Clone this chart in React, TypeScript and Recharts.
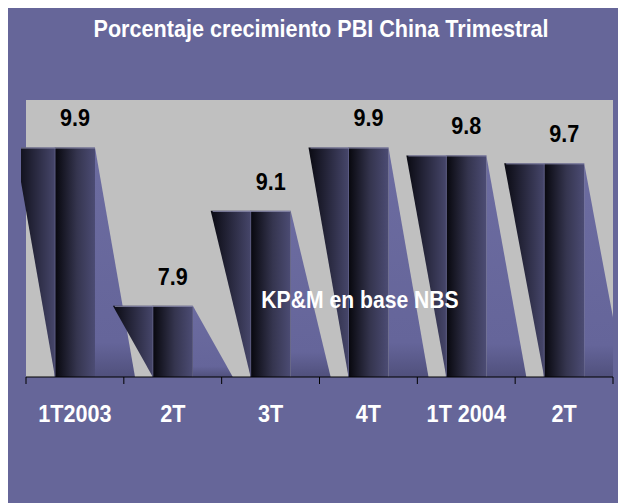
import { Bar, BarChart, CartesianGrid, LabelList, XAxis, YAxis } from 'recharts';

const quarters = ['1T2003', '2T', '3T', '4T', '1T 2004', '2T'];
const growth = [9.9, 7.9, 9.1, 9.9, 9.8, 9.7];
const yDomain: [number, number] = [7, 10.5];

const chartData = quarters.map((quarter, i) => ({ quarter, growth: growth[i] }));

const FONT = '"Liberation Sans", Arial, sans-serif';
const PURPLE = '#666699';
const SQUEEZE = 0.92; // the source font is a bit condensed

function NarrowText({ x, y, fill, size, children }: {
  x: number;
  y: number;
  fill: string;
  size: number;
  children: React.ReactNode;
}) {
  return (
    <text
      transform={`translate(${x},${y}) scale(${SQUEEZE},1)`}
      textAnchor="middle"
      fill={fill}
      fontFamily={FONT}
      fontWeight="bold"
      fontSize={size}
    >
      {children}
    </text>
  );
}

function WedgeBar(props: Record<string, unknown>) {
  const { x, y, width, height } = props as { x: number; y: number; width: number; height: number };
  if (x == null || y == null || !height) return null;
  const b = y + height;
  return (
    <g clipPath="url(#plot-clip)">
      <polygon points={`${x - width},${y} ${x},${y} ${x},${b}`} fill="url(#wedge-left)" />
      <polygon points={`${x + width},${y} ${x + 2 * width},${b} ${x + width},${b}`} fill="url(#wedge-right)" />
      <rect x={x} y={y} width={width} height={height} fill="url(#bar-face)" />
      <line x1={x} y1={y} x2={x} y2={b} stroke="#5a5a80" strokeWidth={1} />
      <line x1={x - width + 2} y1={y + 0.5} x2={x + width} y2={y + 0.5} stroke="#8c8cae" strokeWidth={1} />
    </g>
  );
}

function QuarterTick(props: Record<string, unknown>) {
  const { x, y, payload, index } = props as {
    x: number;
    y: number;
    index: number;
    payload: { value: string; offset?: number };
  };
  const half = payload?.offset ?? 49;
  return (
    <g>
      <line x1={x - half} y1={y} x2={x - half} y2={y + 7} stroke="#000" />
      {index === quarters.length - 1 && (
        <line x1={x + half} y1={y} x2={x + half} y2={y + 7} stroke="#000" />
      )}
      <NarrowText x={x} y={y + 45} fill="#fff" size={23.5}>
        {payload.value}
      </NarrowText>
    </g>
  );
}

function ValueLabel(props: Record<string, unknown>) {
  const { x, y, width, value } = props as { x: number; y: number; width: number; value: number };
  if (x == null || y == null) return null;
  return (
    <NarrowText x={x + width / 2} y={y - 21} fill="#000" size={23.5}>
      {Number(value).toFixed(1)}
    </NarrowText>
  );
}

export default function App() {
  return (
    <div style={{ position: 'relative', width: 618, height: 495, background: PURPLE }}>
      <BarChart
        width={618}
        height={495}
        data={chartData}
        margin={{ top: 92, right: 13, bottom: 0, left: 18 }}
      >
        <defs>
          <linearGradient id="bar-face" x1="0" y1="0" x2="1" y2="0">
            <stop offset="0%" stopColor="#07070d" />
            <stop offset="55%" stopColor="#35354f" />
            <stop offset="100%" stopColor="#4c4c74" />
          </linearGradient>
          <linearGradient id="wedge-left" x1="0" y1="0" x2="1" y2="0">
            <stop offset="0%" stopColor="#0a0a12" />
            <stop offset="100%" stopColor="#46466a" />
          </linearGradient>
          <linearGradient id="wedge-right" x1="0" y1="0" x2="0" y2="1">
            <stop offset="0%" stopColor="#6c6ca0" />
            <stop offset="85%" stopColor="#65659a" />
            <stop offset="100%" stopColor="#50507c" />
          </linearGradient>
          <clipPath id="plot-clip" clipPathUnits="userSpaceOnUse">
            <rect x={13} y={0} width={592} height={495} />
          </clipPath>
        </defs>
        <CartesianGrid horizontal={false} vertical={false} fill="#c0c0c0" stroke="none" />
        <XAxis
          dataKey="quarter"
          height={126}
          axisLine={{ stroke: '#000' }}
          tickLine={false}
          tickSize={0}
          tickMargin={0}
          interval={0}
          tick={<QuarterTick />}
        />
        <YAxis hide domain={yDomain} allowDataOverflow />
        <Bar dataKey="growth" barSize={40} shape={<WedgeBar />} isAnimationActive={false}>
          <LabelList dataKey="growth" content={<ValueLabel />} />
        </Bar>
      </BarChart>
      <svg
        width={618}
        height={495}
        style={{ position: 'absolute', left: 0, top: 0, pointerEvents: 'none' }}
      >
        <NarrowText x={313} y={29} fill="#fff" size={23.5}>
          Porcentaje crecimiento PBI China Trimestral
        </NarrowText>
        <NarrowText x={352} y={300} fill="#fff" size={23}>
          KP&amp;M en base NBS
        </NarrowText>
      </svg>
    </div>
  );
}
